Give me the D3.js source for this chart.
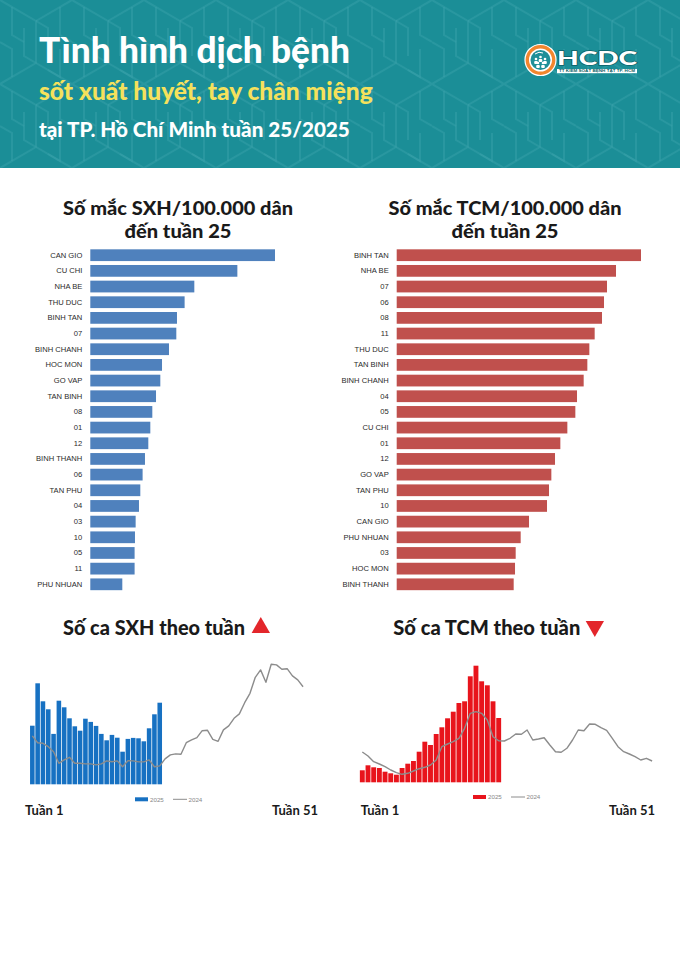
<!DOCTYPE html>
<html>
<head>
<meta charset="utf-8">
<script src="https://cdn.jsdelivr.net/npm/d3@7"></script>
<style>
  html, body { margin: 0; padding: 0; background: #fff; }
  svg { display: block; }
</style>
</head>
<body>
<svg id="chart" width="680" height="962"></svg>
<script>
// Số mắc / 100.000 dân đến tuần 25
const sxhDistricts = ['CAN GIO', 'CU CHI', 'NHA BE', 'THU DUC', 'BINH TAN', '07', 'BINH CHANH', 'HOC MON', 'GO VAP', 'TAN BINH', '08', '01', '12', 'BINH THANH', '06', 'TAN PHU', '04', '03', '10', '05', '11', 'PHU NHUAN']
const sxhRates = [249.3, 198.5, 140.4, 127.3, 117.0, 116.1, 106.2, 96.8, 94.5, 88.7, 83.7, 81.0, 78.3, 73.8, 70.6, 67.5, 65.7, 61.2, 60.3, 59.8, 59.8, 43.2]

const tcmDistricts = ['BINH TAN', 'NHA BE', '07', '06', '08', '11', 'THU DUC', 'TAN BINH', 'BINH CHANH', '04', '05', 'CU CHI', '01', '12', 'GO VAP', 'TAN PHU', '10', 'CAN GIO', 'PHU NHUAN', '03', 'HOC MON', 'BINH THANH']
const tcmRates = [366.5, 329.0, 315.5, 311.0, 308.0, 297.0, 289.0, 286.0, 280.5, 270.5, 268.0, 256.0, 245.5, 237.5, 232.0, 228.5, 225.5, 198.5, 186.0, 178.5, 177.5, 175.5]

// Số ca theo tuần
const weeks = d3.range(1, 53)
const sxh2025 = [293, 505, 415, 375, 252, 418, 385, 330, 290, 268, 328, 312, 292, 252, 220, 247, 233, 163, 227, 232, 230, 215, 280, 350, 408]
const sxh2024 = [242, 208, 205, 188, 163, 105, 122, 135, 105, 105, 102, 102, 97, 102, 117, 113, 117, 88, 118, 117, 112, 112, 122, 88, 92, 127,
  147, 152, 150, 208, 222, 233, 268, 270, 225, 215, 272, 292, 330, 352, 408, 455, 535, 572, 510, 600, 597, 575, 578, 542, 522, 488]
const tcm2025 = [120, 170, 150, 143, 106, 90, 76, 143, 186, 213, 306, 406, 373, 483, 550, 640, 706, 793, 810, 1060, 1166, 1010, 970, 810, 643]
const tcm2024 = [303, 263, 206, 183, 156, 123, 96, 80, 90, 113, 136, 150, 173, 223, 356, 383, 406, 440, 540, 690, 706, 690, 623, 456, 416, 413,
  440, 483, 480, 523, 423, 433, 446, 373, 306, 300, 340, 423, 523, 516, 583, 580, 546, 520, 440, 356, 306, 283, 256, 223, 240, 213]
const seriesNames = ['2025', '2024']

const svg = d3.select('#chart')
const titleFont = 'Lato, "Noto Sans", sans-serif'
const labelFont = '"Liberation Sans", Arial, sans-serif'

function fitWidth (sel, w) {
  const len = sel.node().getComputedTextLength()
  const fs = parseFloat(sel.attr('font-size'))
  sel.attr('font-size', (fs * w / len).toFixed(2))
}

// header
const defs = svg.append('defs')
const pat = defs.append('pattern')
  .attr('id', 'hex')
  .attr('patternUnits', 'userSpaceOnUse')
  .attr('width', 72)
  .attr('height', 84)
const hexPaths = [
  'M0,0 L36,21 L36,63 L0,84', 'M72,0 L36,21', 'M72,84 L36,63',
  'M12,7 L12,35 L24,42', 'M60,49 L60,77 L48,70', 'M0,42 L12,49 L12,77',
  'M72,42 L60,35 L60,7', 'M36,21 L48,28 L48,56', 'M24,28 L24,56 L36,63'
]
hexPaths.forEach(d => {
  pat.append('path').attr('d', d)
    .attr('fill', 'none')
    .attr('stroke', '#3aa3ab')
    .attr('stroke-opacity', 0.45)
    .attr('stroke-width', 2)
})
svg.append('rect').attr('x', 0).attr('y', 0).attr('width', 680).attr('height', 168).attr('fill', '#1b8e97')
svg.append('rect').attr('x', 0).attr('y', 0).attr('width', 680).attr('height', 168).attr('fill', 'url(#hex)')

const h1 = svg.append('text').attr('x', 39).attr('y', 63)
  .attr('font-family', titleFont).attr('font-weight', 900).attr('font-size', 36)
  .attr('fill', '#fff').text('Tình hình dịch bệnh')
fitWidth(h1, 311)
const h2 = svg.append('text').attr('x', 39).attr('y', 100)
  .attr('font-family', titleFont).attr('font-weight', 900).attr('font-size', 26)
  .attr('fill', '#f5e15c').text('sốt xuất huyết, tay chân miệng')
fitWidth(h2, 334)
const h3 = svg.append('text').attr('x', 39).attr('y', 137)
  .attr('font-family', titleFont).attr('font-weight', 900).attr('font-size', 24)
  .attr('fill', '#fff').text('tại TP. Hồ Chí Minh tuần 25/2025')
fitWidth(h3, 311)

// logo
const logo = svg.append('g')
logo.append('circle').attr('cx', 540.5).attr('cy', 60).attr('r', 15.5).attr('fill', '#f2862e').attr('stroke', '#fff').attr('stroke-width', 1.2)
logo.append('circle').attr('cx', 540.5).attr('cy', 60).attr('r', 11.5).attr('fill', '#fff')
logo.append('circle').attr('cx', 540.5).attr('cy', 60).attr('r', 10).attr('fill', '#1f8f98')
;[[536, 61], [540.5, 59], [545, 61], [538, 65], [543, 65]].forEach(p => {
  logo.append('circle').attr('cx', p[0]).attr('cy', p[1] - 2).attr('r', 1.3).attr('fill', '#fff')
  logo.append('rect').attr('x', p[0] - 1.8).attr('y', p[1]).attr('width', 3.6).attr('height', 3).attr('rx', 1).attr('fill', '#fff')
})
logo.append('path').attr('d', 'M535,54 q4,-3 8,-1').attr('stroke', '#fff').attr('fill', 'none').attr('stroke-width', 1)
logo.append('text').attr('x', 557).attr('y', 65)
  .attr('font-family', titleFont).attr('font-weight', 900).attr('font-size', 18)
  .attr('fill', '#fff').attr('stroke', '#0e5f66').attr('stroke-width', 1.3).attr('paint-order', 'stroke')
  .attr('textLength', 80).attr('lengthAdjust', 'spacingAndGlyphs')
  .text('HCDC')
logo.append('rect').attr('x', 557).attr('y', 69).attr('width', 80).attr('height', 4.2).attr('fill', '#fff')
logo.append('text').attr('x', 559).attr('y', 72.4)
  .attr('font-family', labelFont).attr('font-weight', 700).attr('font-size', 3.4)
  .attr('fill', '#0e5f66').attr('textLength', 76).attr('lengthAdjust', 'spacingAndGlyphs')
  .text('TT KIỂM SOÁT BỆNH TẬT TP. HCM')

// horizontal bar charts
function barChart (opt) {
  const g = svg.append('g')
  const title = g.append('text')
    .attr('text-anchor', 'middle').attr('font-family', titleFont).attr('font-weight', 900)
    .attr('font-size', 19).attr('fill', '#1a1a1a')
  title.append('tspan').attr('x', opt.cx).attr('y', 214.5)
    .attr('textLength', opt.titleW).attr('lengthAdjust', 'spacingAndGlyphs')
    .text(opt.title)
  title.append('tspan').attr('x', opt.cx).attr('y', 237.5)
    .attr('textLength', 107).attr('lengthAdjust', 'spacingAndGlyphs')
    .text('đến tuần 25')

  const y = d3.scaleBand().domain(opt.names).range([245.4, 594.1]).padding(0.25)
  const x = d3.scaleLinear().domain([0, d3.max(opt.values)]).range([opt.x0, opt.x1])

  g.selectAll('rect.bar').data(opt.values).enter().append('rect')
    .attr('class', 'bar')
    .attr('x', x(0))
    .attr('y', (d, i) => y(opt.names[i]))
    .attr('width', d => x(d) - x(0))
    .attr('height', y.bandwidth())
    .attr('fill', opt.color)

  const axis = g.append('g')
    .attr('transform', 'translate(' + (x(0) - 2) + ',0)')
    .call(d3.axisLeft(y).tickSize(0).tickPadding(6))
  axis.select('.domain').remove()
  axis.selectAll('text')
    .attr('font-family', labelFont)
    .attr('font-size', 7.6)
    .attr('fill', '#2a2a2a')
}

barChart({ title: 'Số mắc SXH/100.000 dân', cx: 178, titleW: 230, names: sxhDistricts, values: sxhRates, x0: 90.3, x1: 275, color: '#4f81bd' })
barChart({ title: 'Số mắc TCM/100.000 dân', cx: 505, titleW: 233, names: tcmDistricts, values: tcmRates, x0: 396.7, x1: 641, color: '#c0504d' })

// weekly combo charts
function weeklyChart (opt) {
  const g = svg.append('g')
  g.append('text').attr('x', opt.titleX).attr('y', 635)
    .attr('font-family', titleFont).attr('font-weight', 900)
    .attr('font-size', 20).attr('fill', '#1a1a1a')
    .attr('textLength', opt.titleW).attr('lengthAdjust', 'spacingAndGlyphs')
    .text(opt.title)
  g.append('path').attr('d', opt.tri).attr('fill', '#e3262b')

  const x = d3.scaleBand().domain(weeks).range([opt.x0, opt.x1]).paddingInner(0.14)
  const y = d3.scaleLinear().domain([0, opt.yMax]).range([opt.base, opt.top])

  g.selectAll('rect.bar').data(opt.bars).enter().append('rect')
    .attr('class', 'bar')
    .attr('x', (d, i) => x(weeks[i]))
    .attr('y', d => y(d))
    .attr('width', x.bandwidth())
    .attr('height', d => y(0) - y(d))
    .attr('fill', opt.color)

  const line = d3.line()
    .x((d, i) => x(weeks[i]) + x.bandwidth() / 2)
    .y(d => y(d))
  g.append('path').datum(opt.line)
    .attr('d', line)
    .attr('fill', 'none')
    .attr('stroke', '#8c8c8c')
    .attr('stroke-width', 1.4)
    .attr('stroke-linejoin', 'round')

  // legend
  const lg = g.append('g').attr('transform', 'translate(' + opt.legX + ',' + opt.legY + ')')
  lg.append('rect').attr('x', 0).attr('y', -2).attr('width', 13).attr('height', 4).attr('fill', opt.color)
  lg.append('text').attr('x', 15).attr('y', 2.2).attr('font-family', labelFont).attr('font-size', 6.2).attr('fill', '#888').text(seriesNames[0])
  lg.append('line').attr('x1', 38).attr('x2', 52).attr('y1', 0).attr('y2', 0).attr('stroke', '#8c8c8c').attr('stroke-width', 1)
  lg.append('text').attr('x', 53.5).attr('y', 2.2).attr('font-family', labelFont).attr('font-size', 6.2).attr('fill', '#888').text(seriesNames[1])

  g.append('text').attr('x', opt.tx0).attr('y', 814.5)
    .attr('font-family', titleFont).attr('font-weight', 700).attr('font-size', 13)
    .attr('fill', '#1a1a1a').text('Tuần 1')
  g.append('text').attr('x', opt.tx1).attr('y', 814.5).attr('text-anchor', 'end')
    .attr('font-family', titleFont).attr('font-weight', 700).attr('font-size', 13)
    .attr('fill', '#1a1a1a').text('Tuần 51')
}

weeklyChart({
  title: 'Số ca SXH theo tuần', titleX: 63, titleW: 182,
  tri: 'M260.8,617 L270,633 L251.6,633 Z',
  bars: sxh2025, line: sxh2024, yMax: 600, base: 784.3, top: 664.3,
  x0: 30.05, x1: 305.35, color: '#1771c2',
  legX: 135, legY: 799.3, tx0: 25, tx1: 318
})
weeklyChart({
  title: 'Số ca TCM theo tuần', titleX: 393.3, titleW: 187,
  tri: 'M585.7,621 L604,621 L594.8,637 Z',
  bars: tcm2025, line: tcm2024, yMax: 1166, base: 782.3, top: 665.7,
  x0: 359.87, x1: 654.55, color: '#e8141c',
  legX: 473, legY: 797, tx0: 360.7, tx1: 655
})
</script>
</body>
</html>
